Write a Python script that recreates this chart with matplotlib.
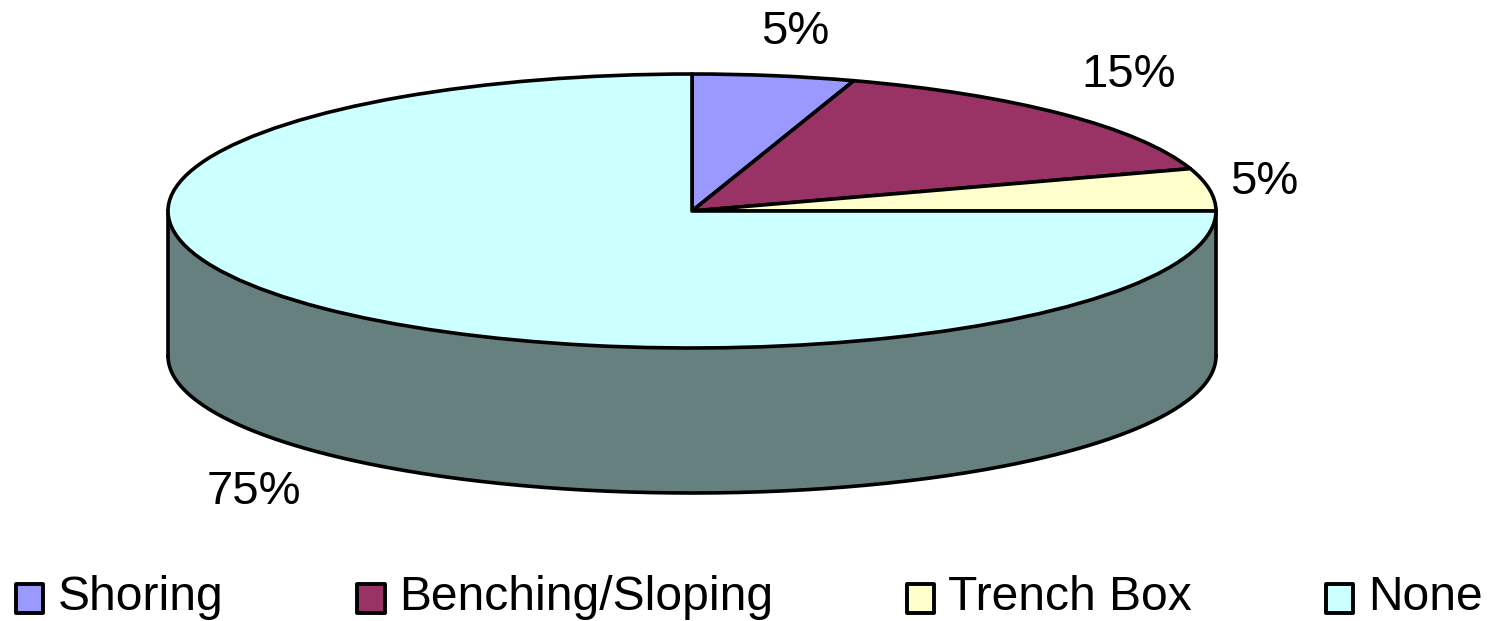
import numpy as np
import matplotlib
matplotlib.use("Agg")
import matplotlib.pyplot as plt
from matplotlib.patches import Patch, Rectangle
from matplotlib.legend_handler import HandlerPatch

categories = ["Shoring", "Benching/Sloping", "Trench Box", "None"]
shares = [5, 15, 5, 75]
label_texts = ["5%", "15%", "5%", "75%"]
colors = ["#9999FF", "#993366", "#FFFFCC", "#CCFFFF"]
side_color = "#668080"

W, H = 1491, 621
CX, CY, RX, RY, DEPTH = 692, 211, 524, 137, 145
LW = 2.6

plt.rcParams["font.family"] = ["Liberation Sans", "DejaVu Sans"]
fig = plt.figure(figsize=(W / 100, H / 100), dpi=100, facecolor="white")
ax = fig.add_axes([0, 0, 1, 1])

# side wall of the disc, drawn behind the top face
theta = np.linspace(0, np.pi, 300)
xs = np.cos(theta)
ys = -np.sin(theta)
d = DEPTH / RY
ax.fill_between(xs, ys, ys - d, color=side_color, lw=0, zorder=1)
ax.plot(xs, ys - d, color="black", lw=LW, zorder=2)
ax.plot([-1, -1], [0, -d], color="black", lw=LW, zorder=2)
ax.plot([1, 1], [0, -d], color="black", lw=LW, zorder=2)

ax.pie(shares, colors=colors, startangle=90, counterclock=False, radius=1,
       wedgeprops=dict(edgecolor="black", linewidth=LW, zorder=3, joinstyle="round"))
ax.set_aspect("auto")
ax.set_xlim((0 - CX) / RX, (W - CX) / RX)
ax.set_ylim((CY - H) / RY, CY / RY)
ax.axis("off")

label_px = [(795, 32), (1129, 75), (1264, 182), (254, 492)]
for text, (px, py) in zip(label_texts, label_px):
    ax.text((px - CX) / RX, (CY - py) / RY, text, ha="center", va="center",
            fontsize=34, color="black", zorder=5)


def lowered_box(legend, orig_handle, xdescent, ydescent, width, height, fontsize):
    return Rectangle((-xdescent, -ydescent - 3.6), width, height, joinstyle="round")


handles = [Patch(facecolor=c, edgecolor="black", linewidth=LW + 0.2) for c in colors]
fig.legend(handles, categories, ncol=4, loc="center left",
           bbox_to_anchor=(16 / W, 1 - 598 / H), frameon=False, fontsize=34.6,
           borderpad=0, borderaxespad=0, handlelength=0.57, handleheight=0.57,
           handletextpad=0.3, columnspacing=2.78, labelspacing=0,
           handler_map={Patch: HandlerPatch(patch_func=lowered_box)})

fig.savefig("out.png", dpi=100)
